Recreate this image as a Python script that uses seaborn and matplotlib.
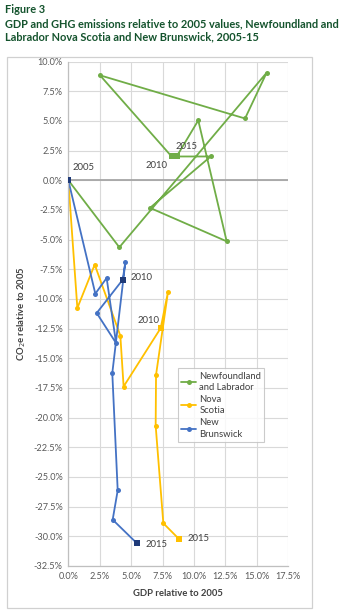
import matplotlib
matplotlib.use("Agg")
import matplotlib.pyplot as plt
import seaborn as sns
import pandas as pd
from matplotlib.lines import Line2D
from matplotlib.patches import Rectangle
from matplotlib.ticker import FuncFormatter, MultipleLocator

years = list(range(2005, 2016))
provinces = ["Newfoundland and Labrador", "Nova Scotia", "New Brunswick"]
legend_labels = ["Newfoundland\nand Labrador", "Nova\nScotia", "New\nBrunswick"]

nl_gdp = [0.0, 4.06, 15.78, 14.06, 2.52, 8.22, 11.33, 6.5, 12.6, 10.34, 8.62]
nl_co2 = [0.0, -5.65, 9.06, 5.2, 8.84, 2.0, 2.0, -2.33, -5.15, 5.04, 2.0]
ns_gdp = [0.0, 0.72, 2.1, 4.14, 4.4, 7.35, 7.93, 6.98, 6.95, 7.56, 8.78]
ns_co2 = [0.0, -10.77, -7.11, -13.1, -17.38, -12.46, -9.42, -16.4, -20.68, -28.9, -30.2]
nb_gdp = [0.0, 2.15, 3.05, 3.8, 2.26, 4.33, 4.54, 3.5, 3.93, 3.53, 5.44]
nb_co2 = [0.0, -9.56, -8.24, -13.72, -11.19, -8.38, -6.89, -16.25, -26.13, -28.6, -30.57]

colors = ["#70AD47", "#FFC000", "#4472C4"]
square_colors = ["#70AD47", "#FFC000", "#1F3A78"]

rows = []
for prov, gx, gy in zip(provinces, [nl_gdp, ns_gdp, nb_gdp], [nl_co2, ns_co2, nb_co2]):
    for yr, a, b in zip(years, gx, gy):
        rows.append({"province": prov, "year": yr, "gdp": a, "co2": b})
df = pd.DataFrame(rows)

sns.set_theme(style="white")
plt.rcParams["font.family"] = ["Lato", "DejaVu Sans"]

fig = plt.figure(figsize=(3.49, 6.14), dpi=100)
ax = fig.add_axes([0.1957, 0.0782, 0.6303, 0.8216])

sns.lineplot(data=df, x="gdp", y="co2", hue="province", hue_order=provinces,
             palette=colors, sort=False, estimator=None, marker="o",
             markersize=3.6, markeredgewidth=0, linewidth=1.3, ax=ax, legend=False)

# square markers for labelled years
labelled = df[df["year"].isin([2010, 2015])]
for prov, sc in zip(provinces, square_colors):
    sub = labelled[labelled["province"] == prov]
    ax.scatter(sub["gdp"], sub["co2"], marker="s", s=16, color=sc, zorder=5, linewidths=0)
origin = df[df["year"] == 2005].iloc[0]
ax.scatter([origin["gdp"]], [origin["co2"]], marker="s", s=18, color="#1F3A78", zorder=6, linewidths=0)

lab_kw = dict(fontsize=6.8, color="#404040")
def pt(prov, yr):
    r = df[(df["province"] == prov) & (df["year"] == yr)].iloc[0]
    return r["gdp"], r["co2"]

x, y = pt(provinces[0], 2005); ax.text(x + 0.35, y + 0.7, "2005", ha="left", va="bottom", **lab_kw)
x, y = pt(provinces[0], 2010); ax.text(x - 0.3, y - 0.35, "2010", ha="right", va="top", **lab_kw)
x, y = pt(provinces[0], 2015); ax.text(x - 0.1, y + 0.5, "2015", ha="left", va="bottom", **lab_kw)
x, y = pt(provinces[1], 2010); ax.text(x - 0.1, y + 0.25, "2010", ha="right", va="bottom", **lab_kw)
x, y = pt(provinces[1], 2015); ax.text(x + 0.7, y, "2015", ha="left", va="center", **lab_kw)
x, y = pt(provinces[2], 2010); ax.text(x + 0.6, y + 0.15, "2010", ha="left", va="center", **lab_kw)
x, y = pt(provinces[2], 2015); ax.text(x + 0.7, y - 0.15, "2015", ha="left", va="center", **lab_kw)

ax.set_xlim(0, 17.5)
ax.set_ylim(-32.5, 10)
ax.xaxis.set_major_locator(MultipleLocator(2.5))
ax.yaxis.set_major_locator(MultipleLocator(2.5))
fmt = FuncFormatter(lambda v, p: f"{v:.1f}%")
ax.xaxis.set_major_formatter(fmt)
ax.yaxis.set_major_formatter(fmt)
ax.grid(True, color="#D9D9D9", linewidth=0.8)
ax.set_axisbelow(True)
ax.axhline(0, color="#A6A6A6", linewidth=1.3, zorder=1)
ax.tick_params(axis="both", labelsize=6.6, labelcolor="#595959", length=0, pad=4)
for s in ["top", "right"]:
    ax.spines[s].set_visible(False)
for s in ["left", "bottom"]:
    ax.spines[s].set_color("#BFBFBF")
    ax.spines[s].set_linewidth(0.9)

ax.set_xlabel("GDP relative to 2005", fontsize=6.8, fontweight="bold", color="#404040", labelpad=6)
ax.set_ylabel("CO$_2$e relative to 2005", fontsize=6.8, fontweight="bold", color="#404040", labelpad=4)

handles = [Line2D([0], [0], color=c, marker="o", markersize=3.6, markeredgewidth=0, linewidth=1.3)
           for c in colors]
leg = ax.legend(handles, legend_labels, loc="upper left", bbox_to_anchor=(0.499, 0.392),
                fontsize=6.8, frameon=True, fancybox=False, handlelength=1.6,
                handletextpad=0.3, borderpad=0.35, labelspacing=0.3, borderaxespad=0)
leg.get_frame().set_edgecolor("#BFBFBF")
leg.get_frame().set_linewidth(0.8)
for t in leg.get_texts():
    t.set_color("#404040")
    t.set_linespacing(1.35)

# chart border box
fig.patches.append(Rectangle((7 / 349, 1 - 608 / 614), (312 - 7) / 349, (608 - 57) / 614,
                             transform=fig.transFigure, fill=False, edgecolor="#D0D0D0",
                             linewidth=0.9))

title_color = "#14532D"
fig.text(5 / 349, 1 - 4 / 614, "Figure 3", ha="left", va="top", fontsize=7.9,
         fontweight="bold", color=title_color)
fig.text(5 / 349, 1 - 18 / 614,
         "GDP and GHG emissions relative to 2005 values, Newfoundland and\nLabrador Nova Scotia and New Brunswick, 2005-15",
         ha="left", va="top", fontsize=7.9, fontweight="bold", color=title_color, linespacing=1.25)

fig.savefig("out.png", dpi=100, facecolor="white")
